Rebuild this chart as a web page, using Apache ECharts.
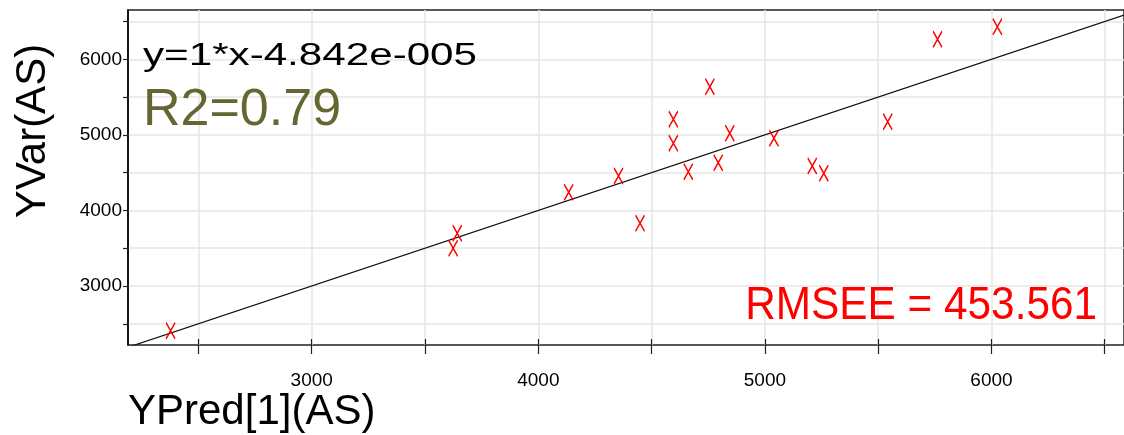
<!DOCTYPE html>
<html>
<head>
<meta charset="utf-8">
<title>YVar vs YPred</title>
<script src="https://cdn.jsdelivr.net/npm/echarts@6/dist/echarts.min.js"></script>
<style>
  html, body { margin: 0; padding: 0; background: #fff; }
  #chart { width: 1124px; height: 435px; }
</style>
</head>
<body>
<div id="chart"></div>
<script>
// Observed vs predicted values
const xPred = [2377, 3624, 3642, 4134, 4354, 4449, 4596, 4596, 4662, 4757, 4794, 4845, 5040, 5209, 5260, 5542, 5762, 6026];
const yVar  = [2408, 3499, 3697, 4240, 4456, 3830, 5206, 4888, 4513, 5638, 4632, 5021, 4955, 4588, 4491, 5174, 6265, 6432];

// Fitted line y = slope * x + intercept
const slope = 1;
const intercept = -4.842e-5;
const r2 = 0.79;
const rmsee = 453.561;

// Axis extents and tick positions
const xMin = 2189, xMax = 6585;
const yMin = 2219, yMax = 6653;
const xTicks = [2500, 3000, 3500, 4000, 4500, 5000, 5500, 6000, 6500];
const xTickLabels = [3000, 4000, 5000, 6000];
const yTicks = [2500, 3000, 3500, 4000, 4500, 5000, 5500, 6000, 6500];
const yTickLabels = [3000, 4000, 5000, 6000];

const FONT = '"Liberation Sans", Arial, sans-serif';
const points = xPred.map((x, i) => [x, yVar[i]]);
const fit = x => slope * x + intercept;
const fitLine = [[xMin, fit(xMin)], [xMax, fit(xMax)]];
const plain = v => String(v);

const chart = echarts.init(document.getElementById('chart'), null, { renderer: 'canvas' });
chart.setOption({
  animation: false,
  backgroundColor: '#fff',
  grid: {
    left: 128, right: -3, top: 10, bottom: 90,
    show: true, borderColor: '#222', borderWidth: 1.5, backgroundColor: 'transparent'
  },
  xAxis: {
    type: 'value', min: xMin, max: xMax, position: 'bottom', offset: -6,
    axisLine: { show: false },
    axisTick: { show: true, length: 15, customValues: xTicks, lineStyle: { color: '#222', width: 1.2 } },
    axisLabel: { customValues: xTickLabels, formatter: plain, margin: 32, fontSize: 19, color: '#000', fontFamily: FONT },
    splitLine: { show: true, lineStyle: { color: '#e6e6e6', width: 1.5 } }
  },
  yAxis: {
    type: 'value', min: yMin, max: yMax,
    axisLine: { show: true, lineStyle: { color: '#000', width: 1.5 } },
    axisTick: { show: true, length: 5, customValues: yTicks, lineStyle: { color: '#222', width: 1.2 } },
    axisLabel: { customValues: yTickLabels, formatter: plain, margin: 6, fontSize: 19, color: '#000', fontFamily: FONT },
    splitLine: { show: true, lineStyle: { color: '#e6e6e6', width: 1.5 } }
  },
  series: [
    {
      type: 'line',
      data: fitLine,
      showSymbol: false,
      silent: true,
      lineStyle: { color: '#111', width: 1.2 },
      z: 2
    },
    {
      type: 'scatter',
      data: points,
      symbol: 'path://M0,0L10,16M10,0L0,16',
      symbolSize: [9, 16],
      itemStyle: { color: 'transparent', borderColor: '#ff0000', borderWidth: 1.6, opacity: 1 },
      z: 3
    }
  ],
  graphic: [
    {
      type: 'text', x: 143, y: 56, scaleX: 1.36, z: 100,
      style: { text: 'y=' + slope + '*x-4.842e-005', font: '31px ' + FONT, fill: '#000', textAlign: 'left', textVerticalAlign: 'middle' }
    },
    {
      type: 'text', x: 143, y: 111, z: 100,
      style: { text: 'R2=' + r2.toFixed(2), font: '52px ' + FONT, fill: '#666633', textAlign: 'left', textVerticalAlign: 'middle' }
    },
    {
      type: 'text', x: 1097, y: 306, scaleX: 0.92, z: 100,
      style: { text: 'RMSEE = ' + rmsee, font: '46px ' + FONT, fill: '#ff0000', textAlign: 'right', textVerticalAlign: 'middle' }
    },
    {
      type: 'text', x: 128, y: 412, z: 100,
      style: { text: 'YPred[1](AS)', font: '42px ' + FONT, fill: '#000', textAlign: 'left', textVerticalAlign: 'middle' }
    },
    {
      type: 'text', x: 33, y: 131, rotation: Math.PI / 2, z: 100,
      style: { text: 'YVar(AS)', font: '42px ' + FONT, fill: '#000', textAlign: 'center', textVerticalAlign: 'middle' }
    }
  ]
});
</script>
</body>
</html>
